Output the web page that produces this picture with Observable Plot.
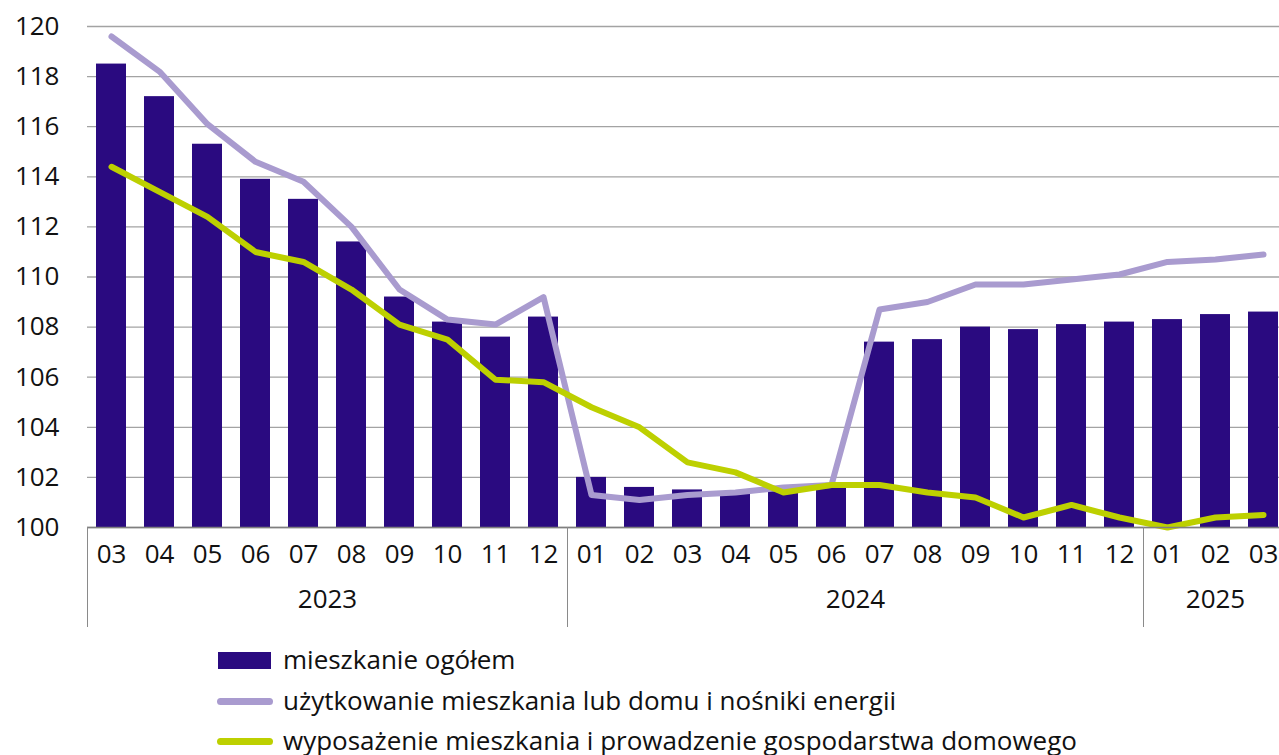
<!DOCTYPE html>
<html>
<head>
<meta charset="utf-8">
<script src="https://cdn.jsdelivr.net/npm/d3@7"></script>
<script src="https://cdn.jsdelivr.net/npm/@observablehq/plot@0.6"></script>
<style>
  html, body { margin: 0; padding: 0; background: #fff; overflow: hidden; }
  body { width: 1279px; height: 755px; position: relative; font-family: "Open Sans", sans-serif; color: #111; }
  #chart { position: absolute; left: 0; top: 0; }
  .legend { position: absolute; left: 217px; top: 640px; }
  .row { position: absolute; left: 0; height: 40px; width: 1000px; }
  .sw { position: absolute; left: 0; }
  .lbl { position: absolute; left: 66px; font-size: 26px; white-space: nowrap; line-height: 1; }
</style>
</head>
<body>
<div id="chart"></div>
<div class="legend" id="legend"></div>
<script>
// ---- data ----
const periods = ["2023-03","2023-04","2023-05","2023-06","2023-07","2023-08","2023-09","2023-10","2023-11","2023-12",
  "2024-01","2024-02","2024-03","2024-04","2024-05","2024-06","2024-07","2024-08","2024-09","2024-10","2024-11","2024-12",
  "2025-01","2025-02","2025-03"];
const mieszkanieOgolem = [118.5,117.2,115.3,113.9,113.1,111.4,109.2,108.2,107.6,108.4,
  102.0,101.6,101.5,101.4,101.5,101.7,107.4,107.5,108.0,107.9,108.1,108.2,
  108.3,108.5,108.6];
const uzytkowanie = [119.6,118.2,116.1,114.6,113.8,112.0,109.5,108.3,108.1,109.2,
  101.3,101.1,101.3,101.4,101.6,101.7,108.7,109.0,109.7,109.7,109.9,110.1,
  110.6,110.7,110.9];
const wyposazenie = [114.4,113.4,112.4,111.0,110.6,109.5,108.1,107.5,105.9,105.8,
  104.8,104.0,102.6,102.2,101.4,101.7,101.7,101.4,101.2,100.4,100.9,100.4,
  100.0,100.4,100.5];
const yTicks = [100,102,104,106,108,110,112,114,116,118,120];
const yearLabels = ["2023","2024","2025"];
const yearCenters = ["2023-07","2024-06","2025-02"];   // band near the middle of each year group
const yearStarts = ["2023-03","2024-01","2025-01"];
const seriesNames = ["mieszkanie ogółem","użytkowanie mieszkania lub domu i nośniki energii","wyposażenie mieszkania i prowadzenie gospodarstwa domowego"];
const colors = {bar: "#2a0a80", purple: "#a99bcf", green: "#bdd000"};

const barData = periods.map((p, i) => ({p, v: mieszkanieOgolem[i]}));
const purpleData = periods.map((p, i) => ({p, v: uzytkowanie[i]}));
const greenData = periods.map((p, i) => ({p, v: wyposazenie[i]}));
const yearData = yearLabels.map((y, i) => ({y, p: yearCenters[i]}));

const fontSize = 26;
const chart = Plot.plot({
  width: 1279,
  height: 635,
  marginLeft: 87,
  marginRight: 0,
  marginTop: 26,
  marginBottom: 108,
  style: {fontFamily: "Open Sans, sans-serif", fontSize: fontSize + "px", color: "#111", background: "#fff", overflow: "visible"},
  x: {domain: periods, range: [87, 1287], paddingInner: 0.385, paddingOuter: 0.1925, align: 0.5, label: null},
  y: {domain: [100, 120], label: null},
  marks: [
    Plot.gridY(yTicks, {stroke: "#a3a3a3", strokeOpacity: 1, strokeWidth: 1.3}),
    Plot.barY(barData, {x: "p", y1: 100, y2: "v", fill: colors.bar}),
    Plot.line(purpleData, {x: "p", y: "v", stroke: colors.purple, strokeWidth: 6, strokeLinejoin: "round", strokeLinecap: "round"}),
    Plot.line(greenData, {x: "p", y: "v", stroke: colors.green, strokeWidth: 6, strokeLinejoin: "round", strokeLinecap: "round"}),
    Plot.ruleY([100], {stroke: "#7f7f7f", strokeWidth: 1.3}),
    Plot.axisY({ticks: yTicks, tickSize: 0, tickPadding: 28, fontSize: fontSize, label: null, tickFormat: d => String(d)}),
    Plot.axisX({tickSize: 0, tickPadding: 17, fontSize: fontSize, label: null, tickFormat: d => d.slice(5)}),
    Plot.ruleX(yearStarts, {x: d => d, dx: -24, stroke: "#8a8a8a", strokeWidth: 1, insetTop: 501, insetBottom: -100}),
    Plot.text(yearData.slice(0, 2), {x: "p", text: "y", frameAnchor: "bottom", dx: 24, dy: 80, fontSize: fontSize, fill: "#111"}),
    Plot.text(yearData.slice(2), {x: "p", text: "y", frameAnchor: "bottom", dy: 80, fontSize: fontSize, fill: "#111"})
  ]
});
document.getElementById("chart").appendChild(chart);

// ---- legend (HTML, below the SVG) ----
const legend = document.getElementById("legend");
const kinds = ["bar", "purple", "green"];
seriesNames.forEach((name, i) => {
  const row = document.createElement("div");
  row.className = "row";
  row.style.top = (i * 40.5) + "px";
  const sw = document.createElement("div");
  sw.className = "sw";
  if (kinds[i] === "bar") {
    Object.assign(sw.style, {left: "1px", top: "12px", width: "53px", height: "17px", background: colors.bar});
  } else {
    Object.assign(sw.style, {left: "0px", top: "17px", width: "56px", height: "7px", borderRadius: "4px", background: colors[kinds[i]]});
  }
  const lbl = document.createElement("div");
  lbl.className = "lbl";
  lbl.style.top = "6px";
  lbl.textContent = name;
  row.appendChild(sw);
  row.appendChild(lbl);
  legend.appendChild(row);
});
</script>
</body>
</html>
